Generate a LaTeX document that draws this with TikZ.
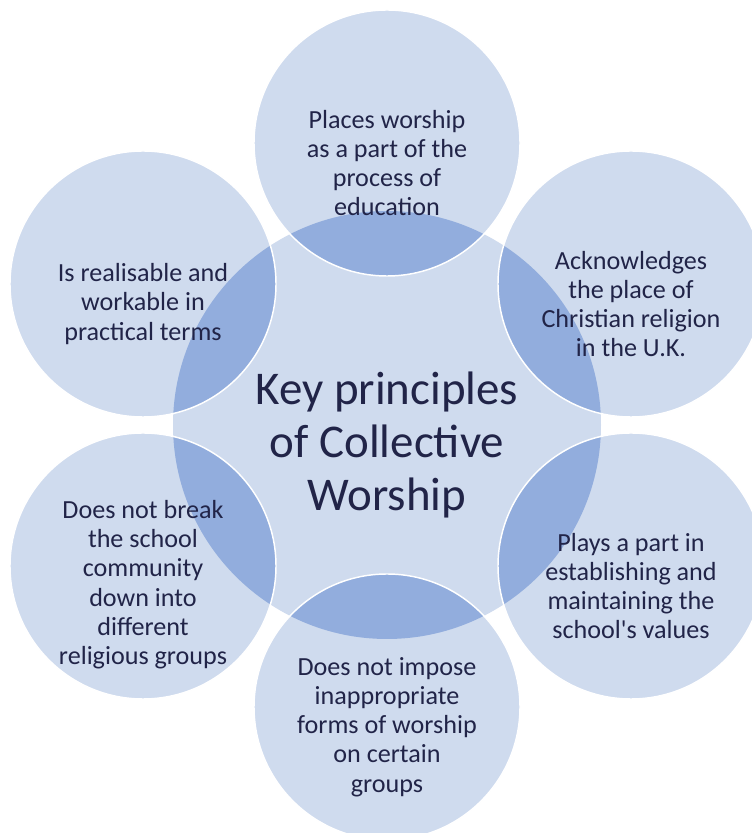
\documentclass[tikz,border=0pt]{standalone}
\usepackage{fontspec}
\setmainfont{Carlito}
\usetikzlibrary{backgrounds}
\definecolor{petalblue}{RGB}{207,219,238}
\definecolor{lensblue}{RGB}{146,173,221}
\definecolor{inknavy}{RGB}{33,36,72}
\tikzstyle{hub} = [circle, minimum size=321pt, inner sep=0pt]
\tikzstyle{petal} = [circle, minimum size=199.5pt, inner sep=0pt, draw=white, line width=1.1pt]
\tikzstyle{petaltext} = [align=center, text=inknavy, font=\fontsize{19.6}{21.9}\selectfont]
\tikzstyle{hubtext} = [align=center, text=inknavy, font=\fontsize{35.2}{39.5}\selectfont]

\begin{document}
\begin{tikzpicture}[x=0.75pt,y=0.75pt]
\useasboundingbox (0,0) rectangle (751,833);

\node (hub) [hub] at (387,408) {};
\node (p1) [petal] at (387,690) {};
\node (p2) [petal] at (631,549) {};
\node (p3) [petal] at (631,267) {};
\node (p4) [petal] at (387,126) {};
\node (p5) [petal] at (143,267) {};
\node (p6) [petal] at (143,549) {};

\begin{scope}[on background layer]
    \fill[petalblue] (hub.center) circle (160.5pt);
    \fill[petalblue] (p1.center) circle (99.75pt);
    \fill[petalblue] (p2.center) circle (99.75pt);
    \fill[petalblue] (p3.center) circle (99.75pt);
    \fill[petalblue] (p4.center) circle (99.75pt);
    \fill[petalblue] (p5.center) circle (99.75pt);
    \fill[petalblue] (p6.center) circle (99.75pt);
    % overlaps with the hub
    \clip (hub.center) circle (160.5pt);
    \fill[lensblue] (p1.center) circle (99.75pt);
    \fill[lensblue] (p2.center) circle (99.75pt);
    \fill[lensblue] (p3.center) circle (99.75pt);
    \fill[lensblue] (p4.center) circle (99.75pt);
    \fill[lensblue] (p5.center) circle (99.75pt);
    \fill[lensblue] (p6.center) circle (99.75pt);
\end{scope}

\node (hublabel) [hubtext, yshift=-15pt] at (hub) {Key principles\\of Collective\\Worship};
\node (t1) [petaltext, yshift=-15pt] at (p1) {Places worship\\as a part of the\\process of\\education};
\node (t2) [petaltext, yshift=-15pt] at (p2) {Acknowledges\\the place of\\Christian religion\\in the U.K.};
\node (t3) [petaltext, yshift=-15pt] at (p3) {Plays a part in\\establishing and\\maintaining the\\school\textquotesingle s values};
\node (t4) [petaltext, yshift=-15pt] at (p4) {Does not impose\\inappropriate\\forms of worship\\on certain\\groups};
\node (t5) [petaltext, yshift=-14pt] at (p5) {Does not break\\the school\\community\\down into\\different\\religious groups};
\node (t6) [petaltext, yshift=-15pt] at (p6) {Is realisable and\\workable in\\practical terms};

\end{tikzpicture}
\end{document}
